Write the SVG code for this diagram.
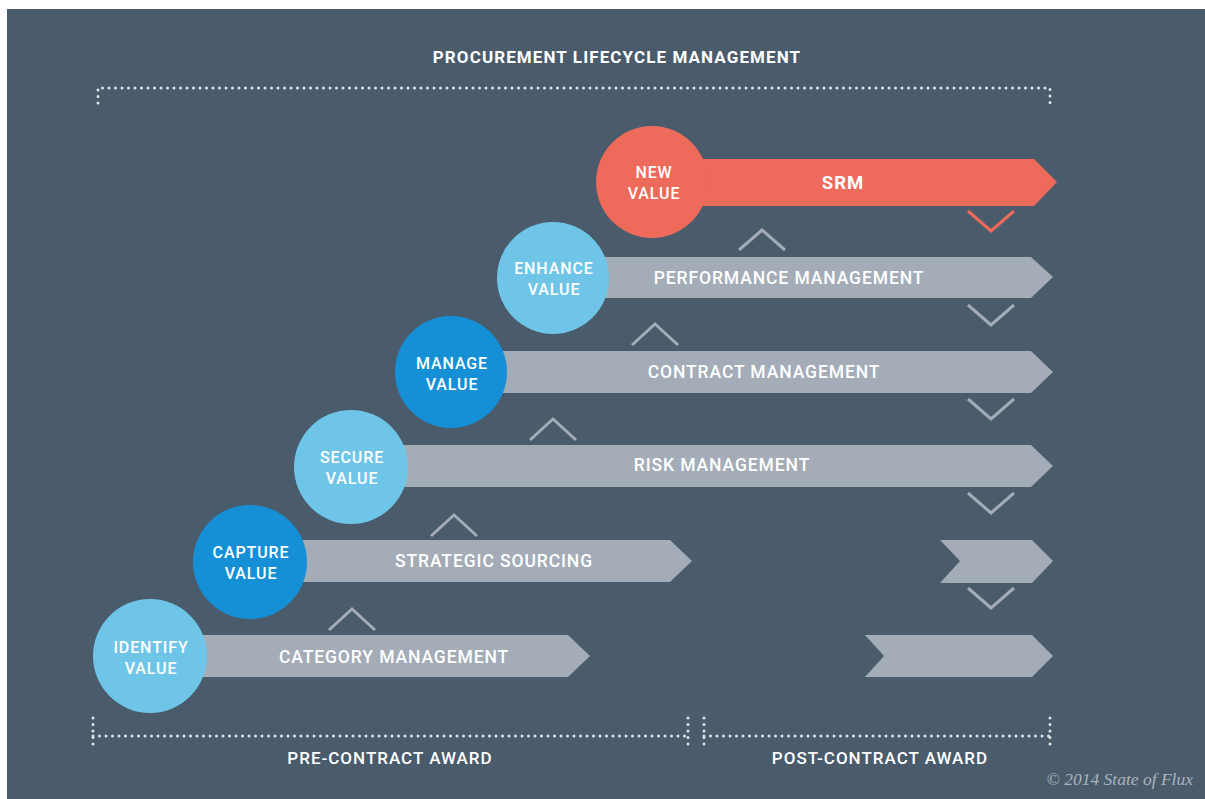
<svg xmlns="http://www.w3.org/2000/svg" width="1205" height="799" viewBox="0 0 1205 799">
<style>
.bg{fill:#4a5b6b}
.bar{fill:#a3acb7}
.red{fill:#ee6a5a}
.lb{fill:#6fc5e8}
.db{fill:#1590d6}
.t{font-family:Roboto,"Liberation Sans",sans-serif;fill:#ffffff;text-anchor:middle;dominant-baseline:central}
.bt{font-size:17.5px;font-weight:500;letter-spacing:0.9px}
.ct{font-size:16px;font-weight:500;letter-spacing:0.9px}
.pt{font-size:17px;font-weight:500;letter-spacing:1px}
.chev{fill:none;stroke:#a3acb7;stroke-width:3}
.chevr{fill:none;stroke:#ee6a5a;stroke-width:3}
.dot{stroke:#dfe5ea;stroke-width:3;stroke-linecap:round;stroke-dasharray:0 6.5;fill:none}
</style>
<rect x="0" y="0" width="1205" height="799" fill="#ffffff"/>
<rect class="bg" x="7" y="9" width="1198" height="790"/>

<g id="title">
<text class="t" x="617" y="57" font-size="17" font-weight="700" letter-spacing="1.1">PROCUREMENT LIFECYCLE MANAGEMENT</text>
<path class="dot" d="M98 103 V88 H1050 V103"/>
</g>

<g id="connectors">
<polyline class="chevr" points="968,211 991,231 1014,211"/>
<polyline class="chev" points="739,250 762,230 785,250"/>
<polyline class="chev" points="968,305 991,325 1014,305"/>
<polyline class="chev" points="632,345 655,324 678,345"/>
<polyline class="chev" points="968,399 991,419 1014,399"/>
<polyline class="chev" points="530,440 553,419 576,440"/>
<polyline class="chev" points="968,493 991,513 1014,493"/>
<polyline class="chev" points="431,536 454,515 477,536"/>
<polyline class="chev" points="968,588 991,608 1014,588"/>
<polyline class="chev" points="329,630 352,609 375,630"/>
</g>

<g id="srm">
<polygon class="red" points="652,159 1034,159 1057,182 1034,206 652,206"/>
<circle class="red" cx="652" cy="182" r="56"/>
<text class="t ct" x="654" y="172">NEW</text>
<text class="t ct" x="654" y="193">VALUE</text>
<text class="t" x="843" y="183" font-size="18.5" font-weight="700" letter-spacing="1">SRM</text>
</g>

<g id="performance">
<polygon class="bar" points="553,257 1031,257 1053,277 1031,298 553,298"/>
<circle class="lb" cx="553" cy="278" r="56"/>
<text class="t ct" x="554" y="268">ENHANCE</text>
<text class="t ct" x="554" y="289">VALUE</text>
<text class="t bt" x="789" y="278">PERFORMANCE MANAGEMENT</text>
</g>

<g id="contract">
<polygon class="bar" points="450,351 1031,351 1053,372 1031,393 450,393"/>
<circle class="db" cx="451" cy="372" r="56"/>
<text class="t ct" x="452" y="363">MANAGE</text>
<text class="t ct" x="452" y="384">VALUE</text>
<text class="t bt" x="764" y="372">CONTRACT MANAGEMENT</text>
</g>

<g id="risk">
<polygon class="bar" points="350,445 1031,445 1053,466 1031,487 350,487"/>
<circle class="lb" cx="351" cy="467" r="57"/>
<text class="t ct" x="352" y="457">SECURE</text>
<text class="t ct" x="352" y="478">VALUE</text>
<text class="t bt" x="722" y="465">RISK MANAGEMENT</text>
</g>

<g id="sourcing">
<polygon class="bar" points="250,540 670,540 692,561 670,582 250,582"/>
<polygon class="bar" points="940,540 1032,540 1053,561 1032,583 940,583 960,561"/>
<circle class="db" cx="250" cy="562" r="57"/>
<text class="t ct" x="251" y="552">CAPTURE</text>
<text class="t ct" x="251" y="573">VALUE</text>
<text class="t bt" x="494" y="561">STRATEGIC SOURCING</text>
</g>

<g id="category">
<polygon class="bar" points="150,635 568,635 590,656 568,677 150,677"/>
<polygon class="bar" points="865,635 1032,635 1053,656 1032,677 865,677 884,656"/>
<circle class="lb" cx="150" cy="656" r="57"/>
<text class="t ct" x="151" y="647">IDENTIFY</text>
<text class="t ct" x="151" y="668">VALUE</text>
<text class="t bt" x="394" y="657">CATEGORY MANAGEMENT</text>
</g>

<g id="phases">
<path class="dot" d="M93 718 V750 M93 736 H688 M688 718 V750"/>
<path class="dot" d="M704 718 V750 M704 736 H1050 M1050 718 V750"/>
<text class="t pt" x="390" y="758">PRE-CONTRACT AWARD</text>
<text class="t pt" x="880" y="758">POST-CONTRACT AWARD</text>
<text x="1193" y="785" font-family="'Liberation Serif',serif" font-style="italic" font-size="17.5" fill="#aab4be" text-anchor="end">© 2014 State of Flux</text>
</g>
</svg>
